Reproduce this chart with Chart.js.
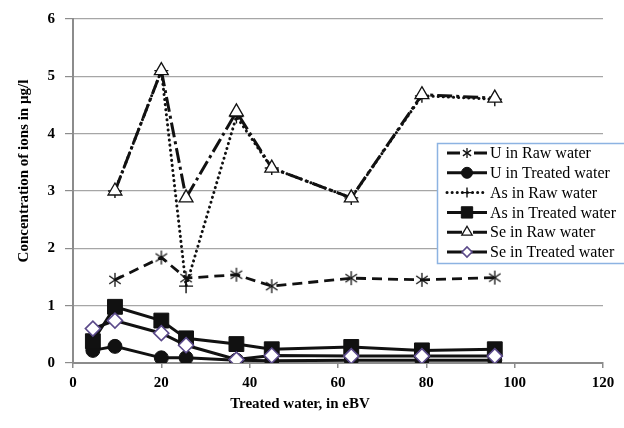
<!DOCTYPE html>
<html>
<head>
<meta charset="utf-8">
<script src="https://cdn.jsdelivr.net/npm/chart.js@4.4.1/dist/chart.umd.min.js"></script>
<style>
  html, body { margin: 0; padding: 0; background: #fff; }
  #wrap { width: 624px; height: 428px; }
</style>
</head>
<body>
<div id="wrap"><canvas id="chart" width="624" height="428"></canvas></div>
<script>
// x positions (eBV) of the samples
const rawX = [9.5, 20, 25.6, 37, 45, 63, 79, 95.5];
const treatedX = [4.5, 9.5, 20, 25.6, 37, 45, 63, 79, 95.5];

// concentrations in µg/l
const uRaw = [1.45, 1.84, 1.48, 1.54, 1.34, 1.48, 1.45, 1.49];
const uTreated = [0.22, 0.29, 0.09, 0.09, 0.05, 0.04, 0.05, 0.05, 0.05];
const asRaw = [3.0, 5.1, 1.34, 4.3, 3.4, 2.88, 4.66, 4.6];
const asTreated = [0.38, 0.98, 0.74, 0.43, 0.33, 0.24, 0.28, 0.22, 0.24];
const seRaw = [3.0, 5.1, 2.88, 4.38, 3.4, 2.88, 4.68, 4.62];
const seTreated = [0.6, 0.74, 0.52, 0.31, 0.06, 0.13, 0.12, 0.12, 0.12];

const seriesNames = ["U in Raw water", "U in Treated water", "As in Raw water",
  "As in Treated water", "Se in Raw water", "Se in Treated water"];

const xTicks = [0, 20, 40, 60, 80, 100, 120];
const yTicks = [0, 1, 2, 3, 4, 5, 6];

const FONT = '"Liberation Serif", "Times New Roman", serif';

function pts(xs, ys) {
  return ys.map((y, i) => ({ x: xs[i], y: y }));
}

// six-armed asterisk marker (Excel style)
function asterisk(r) {
  const c = document.createElement("canvas");
  c.width = c.height = 2 * r + 2;
  const g = c.getContext("2d");
  g.strokeStyle = "#111";
  g.lineWidth = 1.3;
  const m = r + 1;
  [90, 35, 145].forEach(a => {
    const dx = Math.cos(a * Math.PI / 180) * r, dy = Math.sin(a * Math.PI / 180) * r;
    g.beginPath();
    g.moveTo(m - dx, m - dy);
    g.lineTo(m + dx, m + dy);
    g.stroke();
  });
  return c;
}

const styles = [
  { borderDash: [10, 6], borderWidth: 2.8, pointStyle: asterisk(7), pointRadius: 7, bg: "#000", pb: "#111", pbw: 1.3 },
  { borderDash: [], borderWidth: 3, pointStyle: "circle", pointRadius: 7, bg: "#111", pb: "#111", pbw: 1 },
  { borderDash: [0.1, 5], borderWidth: 3, cap: "round", pointStyle: "cross", pointRadius: 7, bg: "#000", pb: "#111", pbw: 1.4 },
  { borderDash: [], borderWidth: 3, pointStyle: "rect", pointRadius: 10.5, bg: "#111", pb: "#111", pbw: 1 },
  { borderDash: [15, 4, 3, 4], borderWidth: 3, pointStyle: "triangle", pointRadius: 8, bg: "#fff", pb: "#111", pbw: 1.3 },
  { borderDash: [], borderWidth: 3, pointStyle: "rectRot", pointRadius: 7.5, bg: "#fff", pb: "#5b4a8a", pbw: 1.6 }
];

const seriesData = [
  pts(rawX, uRaw), pts(treatedX, uTreated), pts(rawX, asRaw),
  pts(treatedX, asTreated), pts(rawX, seRaw), pts(treatedX, seTreated)
];

const datasets = seriesNames.map((name, i) => ({
  label: name,
  data: seriesData[i],
  borderColor: "#111",
  borderWidth: styles[i].borderWidth,
  borderDash: styles[i].borderDash,
  borderCapStyle: styles[i].cap || "butt",
  pointStyle: styles[i].pointStyle,
  pointRadius: styles[i].pointRadius,
  pointBackgroundColor: styles[i].bg,
  pointBorderColor: styles[i].pb,
  pointBorderWidth: styles[i].pbw,
  tension: 0,
  fill: false,
  order: seriesNames.length - i // later series drawn on top, like Excel
}));

// axis titles + legend box drawn on top of the plot
const extras = {
  id: "extras",
  afterDraw(chart) {
    const ctx = chart.ctx;
    ctx.save();
    ctx.fillStyle = "#000";
    ctx.font = "bold 15px " + FONT;
    ctx.textAlign = "center";
    ctx.textBaseline = "middle";
    ctx.fillText("Treated water, in eBV", 300, 404);
    ctx.translate(24, 171);
    ctx.rotate(-Math.PI / 2);
    ctx.fillText("Concentration of ions in µg/l", 0, 0);
    ctx.restore();

    // legend
    ctx.save();
    ctx.fillStyle = "#fff";
    ctx.fillRect(437, 143, 200, 120);
    ctx.strokeStyle = "#8db3e2";
    ctx.lineWidth = 1.5;
    ctx.strokeRect(437.5, 143.5, 200, 120);
    const legendRadius = [5, 5.5, 5, 8, 6, 5];
    chart.data.datasets.forEach((ds, i) => {
      const y = 153 + i * 19.8;
      ctx.save();
      ctx.strokeStyle = "#111";
      ctx.lineWidth = ds.borderWidth;
      ctx.lineCap = ds.borderCapStyle;
      ctx.setLineDash(i === 0 ? [] : ds.borderDash);
      ctx.beginPath();
      if (i === 0) {
        ctx.moveTo(447, y); ctx.lineTo(460, y);
        ctx.moveTo(474, y); ctx.lineTo(487, y);
      } else {
        ctx.moveTo(447, y); ctx.lineTo(487, y);
      }
      ctx.stroke();
      ctx.setLineDash([]);
      ctx.lineCap = "butt";
      if (i === 0) {
        ctx.drawImage(asterisk(5), 467 - 6, y - 6);
      } else {
        ctx.fillStyle = ds.pointBackgroundColor;
        ctx.strokeStyle = ds.pointBorderColor;
        ctx.lineWidth = ds.pointBorderWidth;
        Chart.helpers.drawPoint(ctx, {
          pointStyle: ds.pointStyle, radius: legendRadius[i], rotation: 0, borderWidth: ds.pointBorderWidth
        }, 467, y);
      }
      ctx.restore();
      ctx.fillStyle = "#000";
      ctx.font = "16px " + FONT;
      ctx.textAlign = "left";
      ctx.textBaseline = "middle";
      ctx.fillText(ds.label, 490, y + 1);
    });
    ctx.restore();
  }
};

new Chart(document.getElementById("chart"), {
  type: "line",
  data: { datasets: datasets },
  options: {
    responsive: false,
    animation: false,
    devicePixelRatio: 1,
    layout: { padding: { top: 19, right: 21, left: 0, bottom: 0 } },
    plugins: {
      legend: { display: false },
      tooltip: { enabled: false }
    },
    scales: {
      x: {
        type: "linear",
        min: xTicks[0],
        max: xTicks[xTicks.length - 1],
        afterBuildTicks: s => { s.ticks = xTicks.map(v => ({ value: v })); },
        afterFit: s => { s.height = 65; },
        ticks: { color: "#000", font: { family: FONT, size: 15, weight: "bold" }, padding: 6 },
        grid: { drawOnChartArea: false, drawTicks: true, tickLength: 5, color: "#8c8c8c", lineWidth: 1.5 },
        border: { color: "#8c8c8c", width: 2 }
      },
      y: {
        type: "linear",
        min: yTicks[0],
        max: yTicks[yTicks.length - 1],
        afterBuildTicks: s => { s.ticks = yTicks.map(v => ({ value: v })); },
        afterFit: s => { s.width = 73; },
        ticks: { color: "#000", font: { family: FONT, size: 15, weight: "bold" }, padding: 10 },
        grid: { color: "#a6a6a6", lineWidth: 1.2, tickLength: 8, tickColor: "#8c8c8c" },
        border: { color: "#8c8c8c", width: 2 }
      }
    }
  },
  plugins: [extras]
});
</script>
</body>
</html>
